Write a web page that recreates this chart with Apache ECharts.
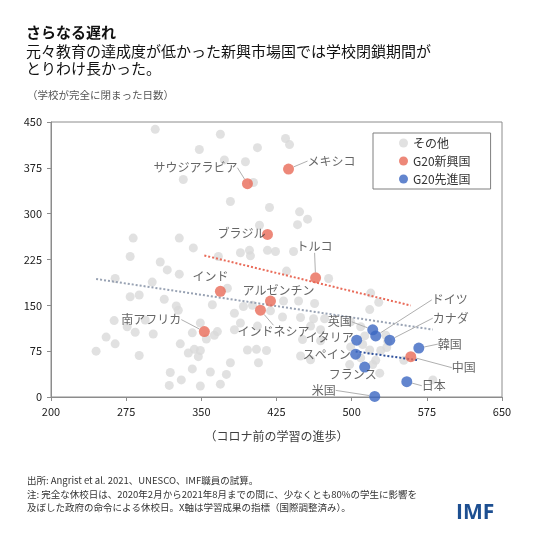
<!DOCTYPE html>
<html>
<head>
<meta charset="utf-8">
<script src="https://cdn.jsdelivr.net/npm/echarts/dist/echarts.min.js"></script>
<style>
  html, body { margin: 0; padding: 0; background: #fff; }
  #chart { width: 534px; height: 534px; }
</style>
</head>
<body>
<div id="chart"></div>
<script>
  // その他の国（x: コロナ前の学習の進歩, y: 学校が完全に閉まった日数）
  const othersData = [
    [304, 438], [369, 430], [348, 405], [406, 408], [434, 423], [438, 413], [373, 388], [394, 385],
    [332, 356], [402, 351], [379, 320], [418, 310], [448, 303], [456, 291], [446, 282], [408, 281],
    [282, 260], [328, 260], [342, 244], [279, 230], [309, 221], [367, 230], [389, 236], [398, 240],
    [399, 231], [416, 240], [424, 238], [442, 238],
    [316, 208], [328, 201], [264, 194], [301, 188], [279, 164], [288, 167], [313, 160], [376, 178],
    [435, 206], [477, 194], [361, 151], [392, 148], [401, 150], [383, 137], [327, 142], [325, 149],
    [432, 157], [447, 157], [463, 153], [431, 131], [449, 130], [462, 128], [473, 128], [519, 170],
    [527, 155], [518, 143], [419, 141],
    [294, 126], [263, 125], [276, 115], [284, 106], [302, 103], [255, 98], [264, 87], [245, 75],
    [288, 68], [349, 121], [341, 105], [363, 101], [355, 95], [329, 87], [343, 78], [349, 76],
    [337, 72], [347, 66], [379, 56], [341, 46], [319, 40], [359, 41], [375, 37], [330, 28],
    [318, 19], [349, 18], [369, 21], [389, 121], [396, 77], [405, 78], [407, 56], [415, 76],
    [383, 110], [406, 116], [366, 107], [449, 67], [459, 116], [469, 110], [451, 94], [469, 92],
    [459, 61], [499, 123], [499, 82], [509, 115], [498, 53], [509, 64], [524, 60], [528, 39],
    [535, 81], [552, 60], [581, 28], [534, 101], [511, 86], [513, 100], [529, 76], [521, 53],
    [536, 91], [518, 77]
  ]

  // G20新興国
  const emergingNames = ['サウジアラビア', 'メキシコ', 'ブラジル', 'トルコ', 'インド', 'アルゼンチン', 'インドネシア', '南アフリカ', '中国']
  const emergingX = [396, 437, 416, 464, 369, 419, 409, 353, 559]
  const emergingY = [349, 373, 266, 195, 173, 157, 142, 107, 66]

  // G20先進国
  const advancedNames = ['英国', 'ドイツ', 'カナダ', 'イタリア', 'スペイン', 'フランス', '韓国', '日本', '米国']
  const advancedX = [521, 524, 538, 505, 504, 513, 567, 555, 523]
  const advancedY = [110, 100, 93, 93, 70, 49, 80, 25, 1]

  const xTicks = { min: 200, max: 650, step: 75 }
  const yTicks = { min: 0, max: 450, step: 75 }

  // ラベルの置き場所（点からのずれ）
  const labelPlace = {
    'サウジアラビア': [-10, -16, 'right'],
    'メキシコ': [19, -8, 'left'],
    'ブラジル': [-2, -1, 'right'],
    'トルコ': [-1, -31, 'center'],
    'インド': [-10, -15, 'center'],
    'アルゼンチン': [8, -11, 'center'],
    'インドネシア': [13, 21, 'center'],
    '南アフリカ': [-23, -12, 'right'],
    '中国': [41, 11, 'left'],
    'ドイツ': [56, -36, 'left'],
    'カナダ': [43, -22, 'left'],
    '英国': [-21, -8, 'right'],
    'イタリア': [-3, -3, 'right'],
    'スペイン': [-5, 0, 'right'],
    'フランス': [-12, 7, 'center'],
    '韓国': [19, -4, 'left'],
    '日本': [15, 4, 'left'],
    '米国': [-39, -6, 'right']
  }
  const noLeader = ['ブラジル', 'インド', 'アルゼンチン', 'イタリア', 'スペイン', 'フランス']

  const fontJP = '"Noto Sans CJK JP", "Noto Sans", sans-serif'
  const red = '#e96a58'
  const blue = '#3b67c2'

  // 最小二乗の近似直線（データの x の範囲だけ引く）
  function trend(xs, ys) {
    const n = xs.length
    const mx = xs.reduce((a, b) => a + b, 0) / n
    const my = ys.reduce((a, b) => a + b, 0) / n
    let sxy = 0, sxx = 0
    xs.forEach((x, i) => {
      sxy += (x - mx) * (ys[i] - my)
      sxx += (x - mx) * (x - mx)
    })
    const b = sxy / sxx
    const a = my - b * mx
    const x0 = Math.min(...xs), x1 = Math.max(...xs)
    return [[x0, a + b * x0], [x1, a + b * x1]]
  }

  // 全体の近似線は全ての国で引く
  const allX = othersData.map(d => d[0]).concat(emergingX, advancedX)
  const allY = othersData.map(d => d[1]).concat(emergingY, advancedY)

  const toItems = (names, xs, ys) => names.map((name, i) => ({
    name,
    value: [xs[i], ys[i]],
    labelLine: { show: !noLeader.includes(name) }
  }))

  const labelOpt = {
    show: true,
    formatter: '{b}',
    fontFamily: fontJP,
    fontSize: 12,
    color: '#404040'
  }

  const labelLayout = (params) => {
    const p = labelPlace[params.text]
    if (!p) return {}
    return {
      x: params.rect.x + params.rect.width / 2 + p[0],
      y: params.rect.y + params.rect.height / 2 + p[1],
      align: p[2],
      verticalAlign: 'middle'
    }
  }

  const chart = echarts.init(document.getElementById('chart'), null, { renderer: 'canvas' })

  const option = {
    animation: false,
    backgroundColor: '#fff',
    textStyle: { fontFamily: fontJP },
    grid: { left: 51, top: 122, right: 32, bottom: 137, show: true, borderColor: '#8c8c8c', borderWidth: 1 },
    legend: {
      data: ['その他', 'G20新興国', 'G20先進国'],
      orient: 'vertical',
      left: 373,
      top: 133,
      padding: [4, 20, 4, 26],
      itemGap: 6,
      itemWidth: 9,
      itemHeight: 9,
      icon: 'circle',
      borderColor: '#7f7f7f',
      borderWidth: 1,
      textStyle: { fontFamily: fontJP, fontSize: 12, color: '#333' }
    },
    xAxis: {
      type: 'value',
      min: xTicks.min,
      max: xTicks.max,
      interval: xTicks.step,
      name: '（コロナ前の学習の進歩）',
      nameLocation: 'middle',
      nameGap: 33,
      nameTextStyle: { fontFamily: fontJP, fontSize: 12, color: '#404040' },
      axisLine: { lineStyle: { color: '#8c8c8c' } },
      axisTick: { show: true, length: 4, lineStyle: { color: '#8c8c8c' } },
      axisLabel: { fontSize: 11, color: '#222', margin: 9, fontFamily: fontJP },
      splitLine: { show: false }
    },
    yAxis: {
      type: 'value',
      min: yTicks.min,
      max: yTicks.max,
      interval: yTicks.step,
      axisLine: { show: true, lineStyle: { color: '#8c8c8c' } },
      axisTick: { show: true, length: 4, lineStyle: { color: '#8c8c8c' } },
      axisLabel: { fontSize: 11, color: '#222', margin: 9, fontFamily: fontJP },
      splitLine: { show: false }
    },
    graphic: [
      { type: 'text', left: 26, top: 25, style: { text: 'さらなる遅れ', font: 'bold 15px ' + fontJP, fill: '#111' } },
      { type: 'text', left: 26, top: 44, style: { text: '元々教育の達成度が低かった新興市場国では学校閉鎖期間が', font: '15px ' + fontJP, fill: '#111' } },
      { type: 'text', left: 26, top: 61, style: { text: 'とりわけ長かった。', font: '15px ' + fontJP, fill: '#111' } },
      { type: 'text', left: 27, top: 90, style: { text: '（学校が完全に閉まった日数）', font: '10.5px ' + fontJP, fill: '#555' } },
      { type: 'text', left: 27, top: 476, style: { text: '出所: Angrist et al. 2021、UNESCO、IMF職員の試算。', font: '9.5px ' + fontJP, fill: '#333' } },
      { type: 'text', left: 27, top: 490, style: { text: '注: 完全な休校日は、2020年2月から2021年8月までの間に、少なくとも80%の学生に影響を', font: '9.5px ' + fontJP, fill: '#333' } },
      { type: 'text', left: 27, top: 503, style: { text: '及ぼした政府の命令による休校日。X軸は学習成果の指標（国際調整済み）。', font: '9.5px ' + fontJP, fill: '#333' } },
      { type: 'text', left: 456, top: 503, style: { text: 'IMF', font: 'bold 21px "Open Sans", "DejaVu Sans", sans-serif', fill: '#1d4f91' } }
    ],
    series: [
      {
        name: 'その他',
        type: 'scatter',
        symbolSize: 9,
        itemStyle: { color: '#d9d9d9' },
        data: othersData,
        z: 2
      },
      {
        name: '全体トレンド',
        type: 'line',
        data: trend(allX, allY),
        symbol: 'none',
        lineStyle: { color: '#98a2b3', width: 2, type: 'dotted' },
        z: 3
      },
      {
        name: '新興国トレンド',
        type: 'line',
        data: trend(emergingX, emergingY),
        symbol: 'none',
        lineStyle: { color: red, width: 2, type: 'dotted' },
        z: 3
      },
      {
        name: '先進国トレンド',
        type: 'line',
        data: trend(advancedX, advancedY),
        symbol: 'none',
        lineStyle: { color: '#2d4f9a', width: 2, type: 'dotted' },
        z: 3
      },
      {
        name: 'G20新興国',
        type: 'scatter',
        symbolSize: 11,
        itemStyle: { color: red },
        data: toItems(emergingNames, emergingX, emergingY),
        label: labelOpt,
        labelLine: { show: true, lineStyle: { color: '#b0b0b0', width: 1 } },
        labelLayout,
        z: 5
      },
      {
        name: 'G20先進国',
        type: 'scatter',
        symbolSize: 11,
        itemStyle: { color: blue },
        data: toItems(advancedNames, advancedX, advancedY),
        label: labelOpt,
        labelLine: { show: true, lineStyle: { color: '#b0b0b0', width: 1 } },
        labelLayout,
        z: 5
      }
    ]
  }

  chart.setOption(option)
</script>
</body>
</html>
